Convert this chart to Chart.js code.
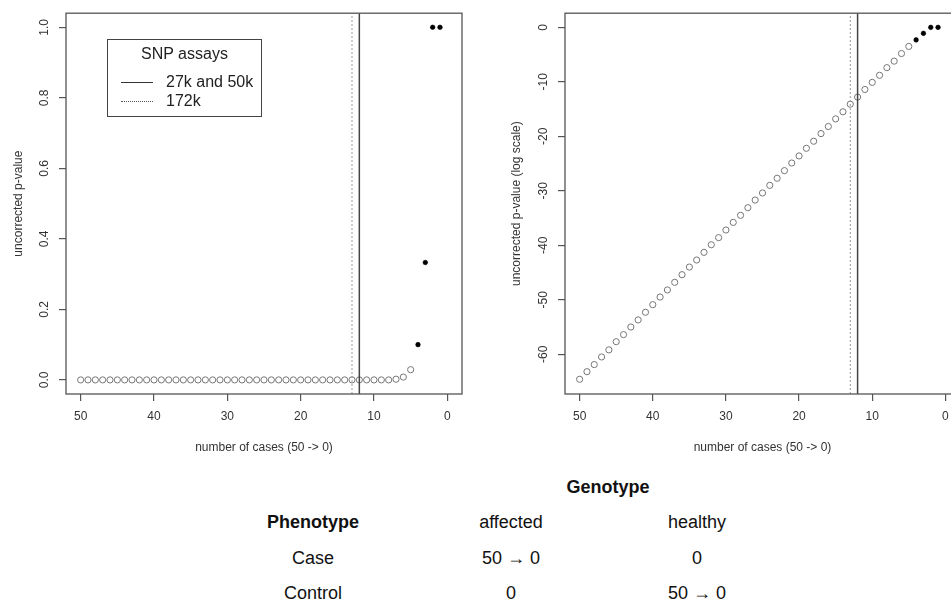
<!DOCTYPE html>
<html>
<head>
<meta charset="utf-8">
<script src="https://cdn.jsdelivr.net/npm/chart.js@4.4.1/dist/chart.umd.min.js"></script>
<style>
  html, body { margin: 0; padding: 0; background: #fff; overflow: hidden; }
  body { width: 951px; height: 606px; position: relative; font-family: "Liberation Sans", Arial, sans-serif; }
  canvas { position: absolute; top: 0; }
  #leftChart { left: 0px; }
  #rightChart { left: 498px; }
  .legend { position: absolute; left: 107px; top: 39px; width: 155px; height: 78px; border: 1.3px solid #444; box-sizing: border-box; font-size: 16px; color: #222; }
  .legend .ttl { position: absolute; left: 0; right: 0; top: 5px; text-align: center; }
  .legend .row { position: absolute; left: 13px; height: 20px; line-height: 20px; }
  .legend .smp { display: inline-block; width: 32px; vertical-align: middle; margin-right: 13px; border-top: 1.3px solid #333; }
  .legend .smp.dot { border-top: 1.3px dotted #555; }
  .cell { position: absolute; font-size: 18px; color: #111; transform: translate(-50%, -50%); white-space: nowrap; }
  .bold { font-weight: bold; }
</style>
</head>
<body>
<canvas id="leftChart" width="480" height="460"></canvas>
<canvas id="rightChart" width="480" height="460"></canvas>

<div class="legend" id="legend"></div>
<div id="table"></div>

<script>
// number of cases, 50 -> 1
const cases = [50, 49, 48, 47, 46, 45, 44, 43, 42, 41, 40, 39, 38, 37, 36, 35, 34, 33, 32, 31,
               30, 29, 28, 27, 26, 25, 24, 23, 22, 21, 20, 19, 18, 17, 16, 15, 14, 13, 12, 11,
               10, 9, 8, 7, 6, 5, 4, 3, 2, 1];

// uncorrected p-value (left panel)
const pValue = [0, 0, 0, 0, 0, 0, 0, 0, 0, 0, 0, 0, 0, 0, 0, 0, 0, 0, 0, 0,
                0, 0, 0, 0, 0, 0, 0, 0, 0, 0, 0, 0, 0, 0, 0, 0, 0, 0, 0, 0,
                0, 0, 0, 0.002, 0.008, 0.029, 0.1, 0.333, 1, 1];

// uncorrected p-value, log scale (right panel)
const logPValue = [-64.6, -63.2, -61.9, -60.5, -59.2, -57.7, -56.4, -55.0, -53.7, -52.3,
                   -50.9, -49.5, -48.2, -46.8, -45.4, -44.0, -42.7, -41.3, -39.9, -38.6,
                   -37.2, -35.8, -34.5, -33.1, -31.7, -30.4, -29.0, -27.7, -26.3, -24.9,
                   -23.6, -22.2, -20.9, -19.5, -18.2, -16.8, -15.5, -14.1, -12.8, -11.4,
                   -10.1, -8.8, -7.4, -6.2, -4.8, -3.5, -2.3, -1.1, 0, 0];

const xTicks = [50, 40, 30, 20, 10, 0];
const yTicksLinear = [0, 0.2, 0.4, 0.6, 0.8, 1.0];
const yTicksLog = [0, -10, -20, -30, -40, -50, -60];

// SNP assay cutoffs
const assayLabels = ['27k and 50k', '172k'];
const assayCutoffs = [12, 13];

// table under the plots
const genotypeCols = ['affected', 'healthy'];
const phenotypeRows = ['Case', 'Control'];
const tableCells = [['50 \u2192 0', '0'], ['0', '50 \u2192 0']];

const FONT = '"Liberation Sans", Arial, sans-serif';
const ALPHA = 0.05;

const boxPlugin = {
    id: 'box',
    afterDraw(chart) {
        const a = chart.chartArea;
        const ctx = chart.ctx;
        ctx.save();
        ctx.strokeStyle = '#555';
        ctx.lineWidth = 1.3;
        ctx.strokeRect(a.left, a.top, a.right - a.left, a.bottom - a.top);
        ctx.restore();
    }
};

function makePanel(id, values, yMin, yMax, yTicks, yTitle, yFmt, yAxisWidth) {
    const points = cases.map((c, i) => ({ x: c, y: values[i] }));
    const isFilled = ctx => pValue[ctx.dataIndex] > ALPHA;

    const cutoffSets = assayCutoffs.map((c, i) => ({
        type: 'line',
        data: [{ x: c, y: yMin }, { x: c, y: yMax }],
        borderColor: i === 0 ? '#444' : '#999',
        borderWidth: i === 0 ? 1.5 : 1,
        borderDash: i === 0 ? [] : [2, 2],
        pointRadius: 0,
        showLine: true,
        fill: false
    }));

    new Chart(document.getElementById(id), {
        type: 'scatter',
        data: {
            datasets: [...cutoffSets, {
                data: points,
                pointStyle: 'circle',
                pointRadius: ctx => isFilled(ctx) ? 2.3 : 3.1,
                pointBorderWidth: ctx => isFilled(ctx) ? 0.6 : 1,
                pointBackgroundColor: ctx => isFilled(ctx) ? '#000' : 'rgba(0,0,0,0)',
                pointBorderColor: ctx => isFilled(ctx) ? '#000' : '#777'
            }]
        },
        options: {
            responsive: false,
            animation: false,
            events: [],
            layout: { padding: { top: 13, right: 18, left: 0, bottom: 0 } },
            plugins: { legend: { display: false }, tooltip: { enabled: false } },
            scales: {
                x: {
                    type: 'linear',
                    reverse: true,
                    min: -2,
                    max: 52,
                    afterBuildTicks: s => { s.ticks = xTicks.map(v => ({ value: v })); },
                    afterFit: s => { s.height = 66; },
                    border: { display: false },
                    grid: { drawOnChartArea: false, drawTicks: true, tickLength: 7, color: '#555', lineWidth: 1.2 },
                    ticks: { padding: 8, color: '#333', font: { family: FONT, size: 12 }, maxRotation: 0, callback: v => String(v) },
                    title: { display: true, text: 'number of cases (50 -> 0)', color: '#333', font: { family: FONT, size: 12 }, padding: { top: 5.5, bottom: 5.5 } }
                },
                y: {
                    type: 'linear',
                    min: yMin,
                    max: yMax,
                    afterBuildTicks: s => { s.ticks = yTicks.map(v => ({ value: v })); },
                    afterFit: s => { s.width = yAxisWidth; },
                    border: { display: false },
                    grid: { drawOnChartArea: false, drawTicks: true, tickLength: 7, color: '#555', lineWidth: 1.2 },
                    ticks: { padding: 6, minRotation: 90, maxRotation: 90, crossAlign: 'center', color: '#333', font: { family: FONT, size: 12 }, callback: yFmt },
                    title: { display: true, text: yTitle, color: '#333', font: { family: FONT, size: 12 }, padding: { top: 11, bottom: 11 } }
                }
            }
        },
        plugins: [boxPlugin]
    });
}

makePanel('leftChart', pValue, -0.04, 1.04, yTicksLinear, 'uncorrected p-value', v => v.toFixed(1), 66);
makePanel('rightChart', logPValue, -67.3, 2.6, yTicksLog, 'uncorrected p-value (log scale)', v => String(v), 67);

// legend box
const legend = document.getElementById('legend');
legend.innerHTML = '<div class="ttl">SNP assays</div>' +
    assayLabels.map((l, i) =>
        '<div class="row" style="top:' + (32 + i * 19) + 'px"><span class="smp' + (i === 1 ? ' dot' : '') + '"></span>' + l + '</div>'
    ).join('');

// contingency table
const table = document.getElementById('table');
const colX = [313, 511, 697];
const rowY = [522, 558, 593];
function cell(text, x, y, bold) {
    const d = document.createElement('div');
    d.className = 'cell' + (bold ? ' bold' : '');
    d.style.left = x + 'px';
    d.style.top = y + 'px';
    d.textContent = text;
    table.appendChild(d);
}
cell('Genotype', 608, 487, true);
cell('Phenotype', colX[0], rowY[0], true);
genotypeCols.forEach((g, j) => cell(g, colX[j + 1], rowY[0], false));
phenotypeRows.forEach((p, i) => {
    cell(p, colX[0], rowY[i + 1], false);
    tableCells[i].forEach((t, j) => cell(t, colX[j + 1], rowY[i + 1], false));
});
</script>
</body>
</html>
